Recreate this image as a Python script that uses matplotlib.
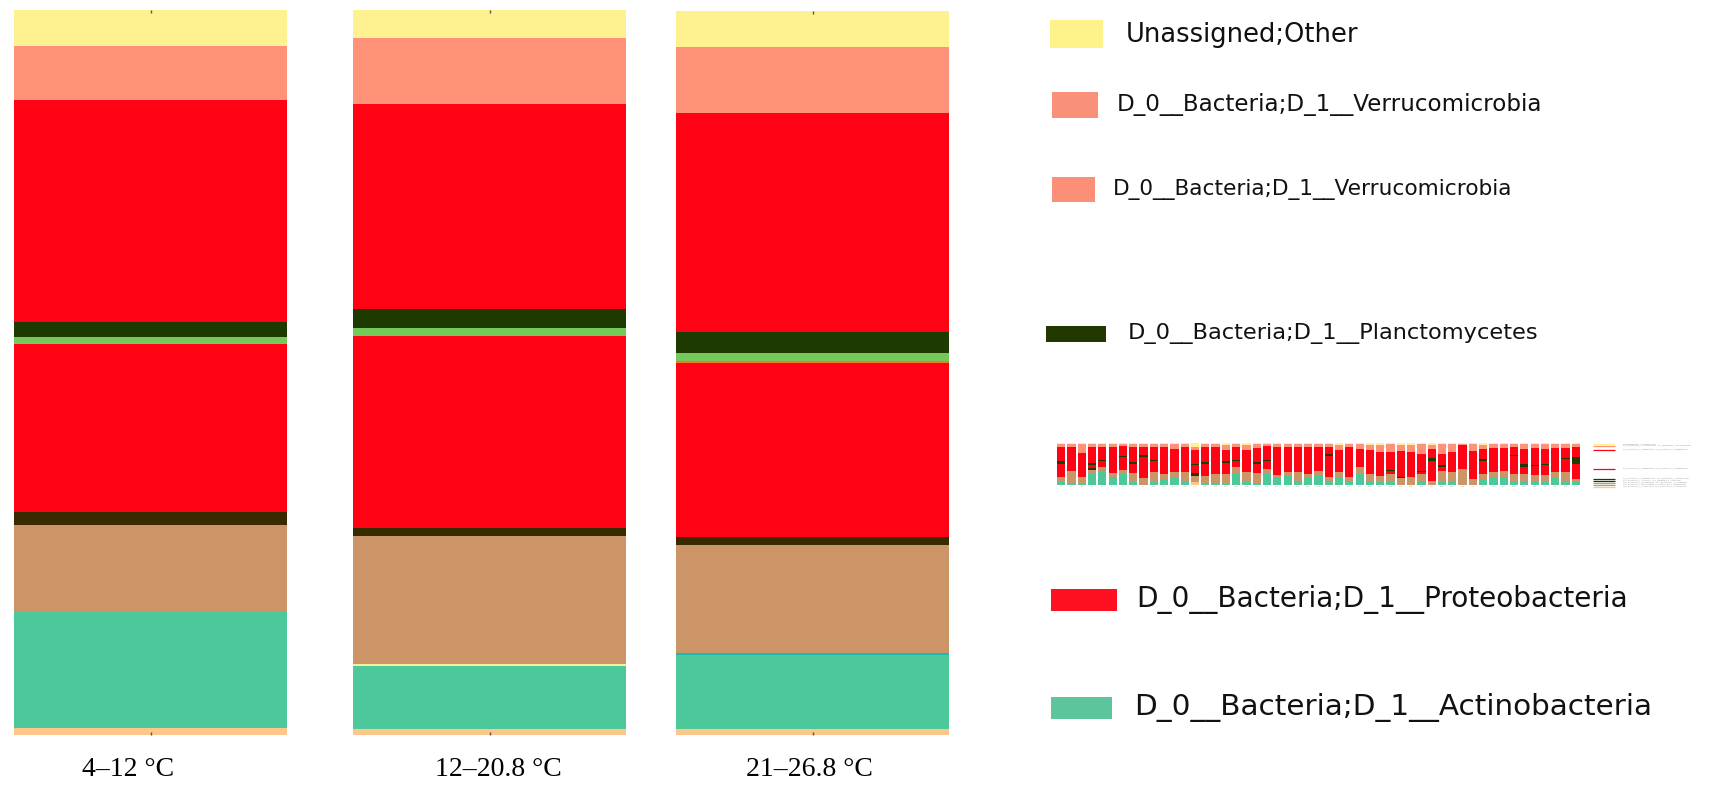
import numpy as np
import matplotlib
matplotlib.use('Agg')
import matplotlib.pyplot as plt

# ---------------------------------------------
#  Relative abundance (%) per temperature range
#  layers listed bottom -> top
# ---------------------------------------------
ranges = ['4–12 °C', '12–20.8 °C', '21–26.8 °C']

peach   = [1.0, 0.8, 0.8]
teal    = [15.9, 8.7, 10.2]
minor_y = [0.0, 0.3, 0.0]
minor_c = [0.0, 0.0, 0.3]
tan     = [12.1, 17.7, 14.9]
dkbrown = [1.7, 1.1, 1.2]
red_lo  = [23.2, 26.5, 24.0]
orange  = [0.0, 0.0, 0.3]
ltgreen = [1.0, 1.0, 1.0]
dkgreen = [2.1, 2.6, 3.0]
red_hi  = [30.6, 28.3, 30.2]
salmon  = [7.4, 9.1, 9.1]
yellow  = [5.0, 3.9, 5.0]

layers = [peach, teal, minor_y, minor_c, tan, dkbrown, red_lo,
          orange, ltgreen, dkgreen, red_hi, salmon, yellow]
layer_colors = ['#fdc78c', '#4cc89b', '#f6eea0', '#19b9b0', '#cc9567', '#3a2a00',
                '#ff0314', '#f07a1e', '#74c95a', '#1d3a00', '#ff0314', '#fe9177', '#fdf28f']

legend_labels = ['Unassigned;Other',
                 'D_0__Bacteria;D_1__Verrucomicrobia',
                 'D_0__Bacteria;D_1__Verrucomicrobia',
                 'D_0__Bacteria;D_1__Planctomycetes',
                 'D_0__Bacteria;D_1__Proteobacteria',
                 'D_0__Bacteria;D_1__Actinobacteria']
legend_colors = ['#fdf38a', '#f9907a', '#fb8f78', '#223800', '#ff1020', '#5cc59c']

# per-sample overview (small stacked plot), % per sample
s_peach   = [0, 0, 0, 0, 0, 0, 0, 0, 0, 0, 0, 0, 0, 8, 0, 0, 0, 0, 0, 0, 0, 0, 0, 0, 0, 0,
             0, 0, 0, 0, 0, 0, 0, 0, 0, 0, 0, 0, 0, 0, 0, 0, 0, 0, 0, 0, 0, 0, 0, 0, 0]
s_teal    = [10, 2, 2, 26, 34, 18, 27, 6, 1, 6, 14, 18, 10, 0, 2, 3, 3, 26, 6, 4, 26, 19, 22, 10, 18, 24,
             6, 16, 10, 28, 6, 6, 6, 0, 0, 6, 0, 6, 10, 0, 0, 14, 16, 18, 10, 10, 10, 6, 20, 8, 6]
s_tan     = [10, 31, 18, 12, 8, 10, 8, 22, 16, 24, 12, 12, 20, 14, 20, 24, 24, 16, 24, 24, 12, 6, 8, 22, 8, 10,
             12, 14, 8, 14, 20, 16, 20, 16, 20, 20, 10, 27, 20, 38, 14, 12, 14, 16, 16, 16, 14, 18, 12, 24, 8]
s_dkbrown = [0, 0, 0, 3, 0, 0, 0, 0, 0, 0, 0, 0, 0, 6, 0, 0, 0, 0, 0, 0, 0, 0, 0, 0, 0, 0,
             0, 0, 0, 0, 0, 0, 0, 4, 0, 0, 0, 0, 0, 0, 0, 0, 0, 0, 0, 0, 0, 0, 0, 0, 0]
s_red_lo  = [30, 26, 29, 8, 16, 26, 32, 21, 50, 28, 0, 0, 20, 20, 28, 34, 26, 16, 20, 22, 20, 24, 32, 22, 36, 8,
             52, 20, 58, 0, 24, 32, 8, 32, 40, 4, 48, 10, 8, 24, 36, 32, 20, 8, 44, 18, 22, 24, 24, 30, 36]
s_dkgreen = [8, 1, 1, 6, 1, 1, 1, 5, 4, 1, 0, 0, 1, 4, 4, 1, 4, 1, 1, 4, 1, 1, 1, 1, 1, 1,
             4, 1, 1, 0, 1, 1, 1, 1, 0, 4, 6, 4, 1, 1, 1, 4, 1, 1, 1, 6, 1, 1, 1, 3, 16]
s_red_hi  = [33, 31, 26, 39, 32, 36, 24, 37, 20, 32, 65, 56, 40, 32, 37, 29, 26, 31, 33, 33, 35, 41, 28, 36, 28, 48,
             17, 33, 14, 44, 32, 24, 44, 28, 18, 40, 22, 28, 40, 32, 31, 24, 36, 44, 20, 36, 40, 36, 32, 22, 24]
s_salmon  = [6, 6, 21, 6, 6, 6, 5, 6, 6, 6, 6, 11, 6, 8, 6, 6, 12, 7, 12, 10, 3, 6, 6, 6, 6, 6,
             6, 12, 6, 11, 13, 17, 18, 14, 17, 23, 10, 22, 18, 2, 15, 10, 10, 10, 6, 11, 10, 12, 8, 10, 7]
s_yellow  = [3, 3, 3, 3, 3, 3, 3, 3, 3, 3, 3, 3, 3, 10, 3, 3, 5, 3, 4, 3, 3, 3, 3, 3, 3, 3,
             3, 4, 3, 3, 4, 4, 3, 5, 5, 3, 4, 3, 3, 3, 3, 4, 3, 3, 3, 3, 3, 3, 3, 3, 3]

sample_layers = [s_peach, s_teal, s_tan, s_dkbrown, s_red_lo, s_dkgreen, s_red_hi, s_salmon, s_yellow]
sample_colors = ['#fdc78c', '#4cc89b', '#cc9567', '#3a2a00', '#ff0314', '#1d3a00', '#ff0314',
                 '#fe9177', '#fdf28f']

# mini legend of the overview plot
mini_colors = ['#fdf28f', '#fe9177', '#ff0314', '#ff0314', '#1d3a00', '#3a2a00', '#74c95a', '#cc9567', '#fdc78c']
mini_labels = ['Unassigned;Other', 'D_0__Bacteria;D_1__Verrucomicrobia', 'D_0__Bacteria;D_1__Proteobacteria',
               'D_0__Bacteria;D_1__Proteobacteria', 'D_0__Bacteria;D_1__Planctomycetes',
               'D_0__Bacteria;D_1__Chloroflexi', 'D_0__Bacteria;D_1__Cyanobacteria',
               'D_0__Bacteria;D_1__Bacteroidetes', 'D_0__Bacteria;D_1__Acidobacteria']


W, H = 1726, 787
fig = plt.figure(figsize=(W / 100, H / 100), dpi=100)


def px_axes(x0, y0, x1, y1):
    return fig.add_axes([x0 / W, 1 - y1 / H, (x1 - x0) / W, (y1 - y0) / H])


# ---------
#  Panels
# ---------
boxes = [(14, 10, 287, 735), (353, 10, 626, 735), (676, 11, 949, 735)]
label_x = [128, 498, 809]

for i, box in enumerate(boxes):
    ax = px_axes(*box)
    bottom = 0
    for vals, c in zip(layers, layer_colors):
        ax.bar(0, vals[i], bottom=bottom, width=1, color=c, linewidth=0)
        bottom += vals[i]
    ax.set_xlim(-0.5, 0.5)
    ax.set_ylim(0, 100)
    for s in ax.spines.values():
        s.set_visible(False)
    ax.set_yticks([])
    ax.set_xticks([0])
    ax.tick_params(axis='x', top=True, bottom=True, length=2, width=1, color='#555555',
                   labelbottom=False, direction='in')
    fig.text(label_x[i] / W, 1 - 770 / H, ranges[i], ha='center', va='center',
             family='Liberation Serif', fontsize=20)

# -------------------
#  Overview thumbnail
# -------------------
tax = px_axes(1055, 443, 1582, 485)
n = len(s_teal)
xs = np.arange(n)
tot = np.sum(np.array(sample_layers, dtype=float), axis=0)
bottom = np.zeros(n)
for vals, c in zip(sample_layers, sample_colors):
    v = np.array(vals, dtype=float) / tot * 100
    tax.bar(xs, v, bottom=bottom, width=0.8, color=c, linewidth=0)
    bottom += v
tax.set_xlim(-0.6, n - 0.4)
tax.set_ylim(0, 100)
for s in tax.spines.values():
    s.set_visible(False)
tax.set_yticks([])
tax.set_xticks(xs)
tax.set_xticklabels(['S%d' % (k + 1) for k in xs], fontsize=1.5, color='#aaaaaa', rotation=0)
tax.tick_params(axis='x', length=0, pad=0.5)

# -------------------
#  Legend (overlay)
# -------------------
ov = fig.add_axes([0, 0, 1, 1])
ov.set_xlim(0, W)
ov.set_ylim(H, 0)
ov.axis('off')

patch_boxes = [(1050, 20, 1103, 48), (1052, 92, 1098, 118), (1052, 177, 1095, 202),
               (1046, 326, 1106, 342), (1051, 589, 1117, 611), (1051, 697, 1112, 719)]
text_spans = [(1126, 1358, 35), (1117, 1542, 105), (1113, 1513, 190),
              (1128, 1538, 334), (1136, 1629, 600), (1134, 1651, 708)]

renderer = fig.canvas.get_renderer()
for lab, c, pb, ts in zip(legend_labels, legend_colors, patch_boxes, text_spans):
    x0, y0, x1, y1 = pb
    ov.add_patch(plt.Rectangle((x0, y0), x1 - x0, y1 - y0, color=c, linewidth=0))
    t = ov.text(ts[0], ts[2], lab, ha='left', va='center', fontsize=20,
                family='DejaVu Sans', color='#111111')
    w = t.get_window_extent(renderer).width
    t.set_fontsize(20 * (ts[1] - ts[0]) / w)

# mini legend lines next to the thumbnail
mini_y = [444, 446, 450, 469, 479, 481, 483, 485, 487]
for c, lab, y in zip(mini_colors, mini_labels, mini_y):
    ov.plot([1593, 1615], [y, y], color=c, linewidth=0.9, solid_capstyle='butt')
    ov.text(1623, y, lab + '   ' + lab, fontsize=1.3, color='#888888', va='center', ha='left')

plt.savefig('out.png', dpi=100, facecolor='white')
plt.close()
